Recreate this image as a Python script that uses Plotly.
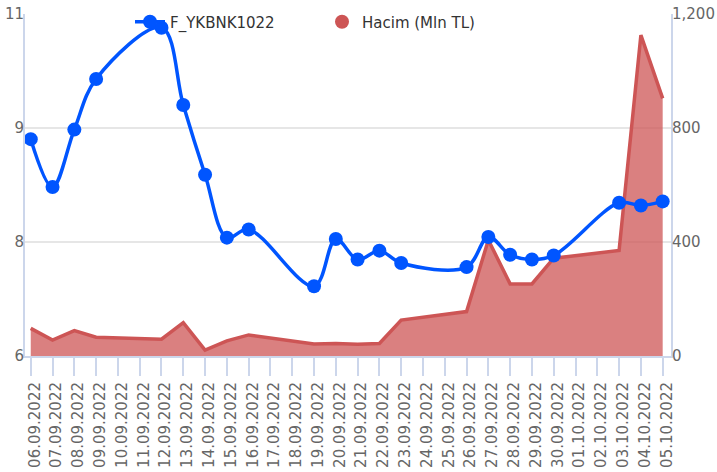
import plotly.graph_objects as go

dates = ["2022-09-06", "2022-09-07", "2022-09-08", "2022-09-09", "2022-09-12",
         "2022-09-13", "2022-09-14", "2022-09-15", "2022-09-16", "2022-09-19",
         "2022-09-20", "2022-09-21", "2022-09-22", "2022-09-23", "2022-09-26",
         "2022-09-27", "2022-09-28", "2022-09-29", "2022-09-30", "2022-10-03",
         "2022-10-04", "2022-10-05"]
price = [9.17, 8.47, 9.31, 10.05, 10.80, 9.67, 8.65, 7.73, 7.85, 7.02,
         7.71, 7.41, 7.54, 7.36, 7.30, 7.74, 7.48, 7.41, 7.47, 8.24,
         8.20, 8.26]
volume = [97, 56, 89, 66, 59, 117, 21, 53, 74, 42,
          44, 41, 44, 126, 156, 407, 253, 253, 343, 370,
          1126, 904]
price_ticks = [6, 6 + 5 / 3, 6 + 10 / 3, 11]
volume_ticks = [0, 400, 800, 1200]

FONT = "DejaVu Sans"
AXIS = "#ccd6eb"
RED = "#cd5555"
BLUE = "#0055ff"

fig = go.Figure()
# volume on primary (right side) axis so the price line layer is drawn on top
fig.add_trace(go.Scatter(
    x=dates, y=volume, yaxis="y", mode="lines",
    line=dict(color=RED, width=3.5), fill="tozeroy",
    fillcolor="rgba(205,85,85,0.75)", name="Hacim (Mln TL)", showlegend=False))
fig.add_trace(go.Scatter(
    x=[None], y=[None], yaxis="y", mode="markers",
    marker=dict(color=RED, size=14), name="Hacim (Mln TL)", legend="legend2"))
fig.add_trace(go.Scatter(
    x=dates, y=price, yaxis="y2", mode="lines+markers",
    line=dict(color=BLUE, width=3.5, shape="spline"),
    marker=dict(color=BLUE, size=14), name="F_YKBNK1022", legend="legend"))

tickfont = dict(family=FONT, size=15, color="#666666")
legfont = dict(family=FONT, size=15, color="#333333")

fig.update_layout(
    width=717, height=472,
    margin=dict(l=25, r=46, t=14, b=116, autoexpand=False),
    plot_bgcolor="white", paper_bgcolor="white",
    font=dict(family=FONT),
    xaxis=dict(
        type="date", range=["2022-09-05 17:40", "2022-10-05 09:10"],
        tickformat="%d.%m.%Y", dtick=86400000, tick0="2022-09-06",
        tickangle=-90, ticks="outside", ticklen=18, tickwidth=2, tickcolor=AXIS,
        ticklabelshift=4,
        showline=True, linecolor=AXIS, linewidth=2, showgrid=False,
        tickfont=tickfont),
    yaxis=dict(
        side="right", range=[0, 1200], tickvals=volume_ticks, tickformat=",",
        showgrid=True, gridcolor="#e6e6e6", gridwidth=2,
        showline=True, linecolor=AXIS, linewidth=2, zeroline=False,
        ticks="", ticklabelstandoff=-4, tickfont=tickfont),
    yaxis2=dict(
        overlaying="y", side="left", range=[6, 11], tickvals=price_ticks,
        tickformat=".0f", showgrid=False, showline=True, linecolor=AXIS,
        linewidth=2, zeroline=False, ticks="", ticklabelstandoff=-4,
        tickfont=tickfont),
    legend=dict(xref="container", yref="container", x=130 / 717, y=1 - 22 / 472,
                xanchor="left", yanchor="middle", orientation="h",
                bgcolor="rgba(0,0,0,0)", font=legfont),
    legend2=dict(xref="container", yref="container", x=322 / 717, y=1 - 22 / 472,
                 xanchor="left", yanchor="middle", orientation="h",
                 bgcolor="rgba(0,0,0,0)", font=legfont),
)

fig.write_html("out.html", config={"displayModeBar": False},
               post_script="document.body.style.margin='0';")
